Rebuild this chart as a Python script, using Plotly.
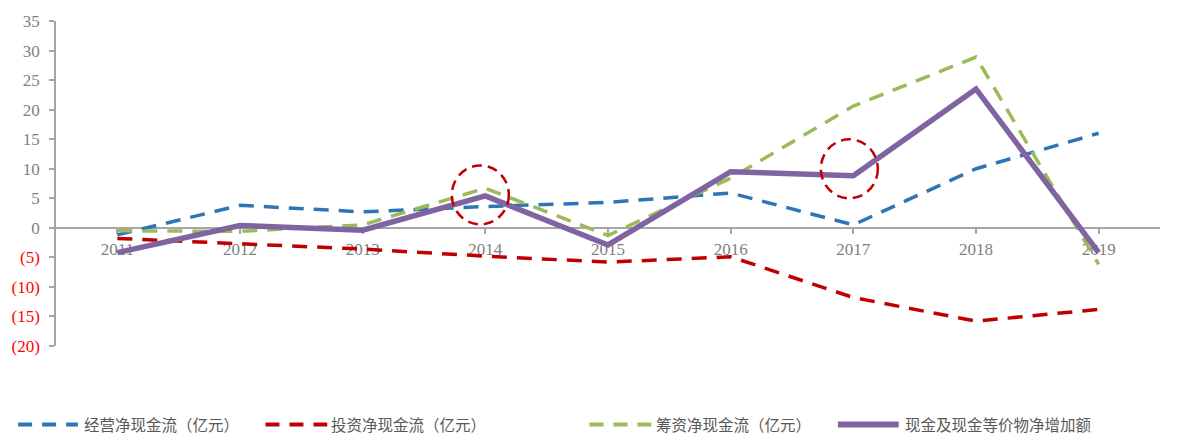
import plotly.graph_objects as go

# Cash-flow series (亿元), 2011-2019
years = ["2011", "2012", "2013", "2014", "2015", "2016", "2017", "2018", "2019"]
operating = [-1.2, 3.8, 2.7, 3.6, 4.3, 5.9, 0.5, 10.0, 16.0]
investing = [-1.8, -2.7, -3.6, -4.8, -5.8, -4.9, -11.8, -15.8, -13.8]
financing = [-0.5, -0.6, 0.5, 6.7, -1.3, 8.4, 20.6, 28.9, -6.2]
net_change = [-4.2, 0.4, -0.4, 5.4, -2.9, 9.5, 8.8, 23.5, -4.2]

series_names = ["经营净现金流（亿元）", "投资净现金流（亿元）", "筹资净现金流（亿元）", "现金及现金等价物净增加额"]
series_colors = ["#2E75B6", "#C00000", "#9BBB59", "#8064A2"]

# y-axis ticks; negatives shown in parentheses and red
y_ticks = [-20, -15, -10, -5, 0, 5, 10, 15, 20, 25, 30, 35]
y_ticktext = [
    f'<span style="color:#FF0000">({abs(v)})</span>' if v < 0 else str(v)
    for v in y_ticks
]

# highlighted points on the net-change line (year index)
highlight_idx = [3, 6]

W, H = 1180, 434
ML, MR, MT, MB = 53, 20, 19, 88
Y_MIN, Y_MAX = -20, 35

fig = go.Figure()
dash_data = "15px,10px"
for name, vals, color in zip(series_names[:3], [operating, investing, financing], series_colors[:3]):
    fig.add_trace(go.Scatter(
        x=list(range(len(years))), y=vals, mode="lines", name=name,
        line=dict(color=color, width=3.5, dash=dash_data), showlegend=False,
    ))
fig.add_trace(go.Scatter(
    x=list(range(len(years))), y=net_change, mode="lines", name=series_names[3],
    line=dict(color=series_colors[3], width=5.5), showlegend=False,
))

shapes = []
# dashed circles around highlighted points
circle_offsets = {3: (-5, 1), 6: (-4, 7)}
for i in highlight_idx:
    dx, dy = circle_offsets[i]
    shapes.append(dict(
        type="circle", xref="x", yref="y", xsizemode="pixel", ysizemode="pixel",
        xanchor=i, yanchor=net_change[i],
        x0=dx - 28.5, x1=dx + 28.5, y0=dy - 29.5, y1=dy + 29.5,
        line=dict(color="#C00000", width=2.5, dash="10px,6px"), layer="above",
    ))

# custom legend row along the bottom
plot_w = W - ML - MR
plot_h = H - MT - MB


def px_x(px):
    return (px - ML) / plot_w


def px_y(py):
    return (H - MB - py) / plot_h


legend_items = [(15, 75, 79), (263, 325, 327), (588, 650, 653), (837, 898, 902)]
legend_y = 424
annotations = []
for k, (x0, x1, xt) in enumerate(legend_items):
    shapes.append(dict(
        type="line", xref="paper", yref="paper",
        x0=px_x(x0), x1=px_x(x1), y0=px_y(legend_y + 1), y1=px_y(legend_y + 1),
        line=dict(color=series_colors[k], width=4 if k < 3 else 6,
                  dash="14px,10px" if k < 3 else "solid"),
    ))
    annotations.append(dict(
        xref="paper", yref="paper", x=px_x(xt), y=px_y(legend_y),
        xanchor="left", yanchor="middle", showarrow=False, text=series_names[k],
        font=dict(family="Noto Sans CJK SC", size=15.5, color="#595959"),
    ))

zero_pos = (0 - Y_MIN) / (Y_MAX - Y_MIN)

fig.update_layout(
    width=W, height=H,
    margin=dict(l=ML, r=MR, t=MT, b=MB),
    paper_bgcolor="white", plot_bgcolor="white",
    shapes=shapes, annotations=annotations,
    xaxis=dict(
        tickmode="array", tickvals=list(range(len(years))), ticktext=years,
        range=[-0.5, len(years) - 0.5],
        anchor="free", position=zero_pos,
        showline=True, linecolor="#A6A6A6", linewidth=1.5,
        ticks="outside", tickson="boundaries", ticklen=5, tickcolor="#A6A6A6", tickwidth=1.5,
        showgrid=False, zeroline=False, layer="below traces",
        tickfont=dict(family="Liberation Serif", size=17, color="#7F7F7F"),
        ticklabelstandoff=1,
    ),
    yaxis=dict(
        range=[Y_MIN, Y_MAX], tickmode="array", tickvals=y_ticks, ticktext=y_ticktext,
        showline=True, linecolor="#A6A6A6", linewidth=1.5,
        ticks="outside", ticklen=5, tickcolor="#A6A6A6", tickwidth=1.5,
        showgrid=False, zeroline=False,
        tickfont=dict(family="Liberation Serif", size=17, color="#7F7F7F"),
        ticklabelstandoff=6,
    ),
)

fig.write_html("out.html")
